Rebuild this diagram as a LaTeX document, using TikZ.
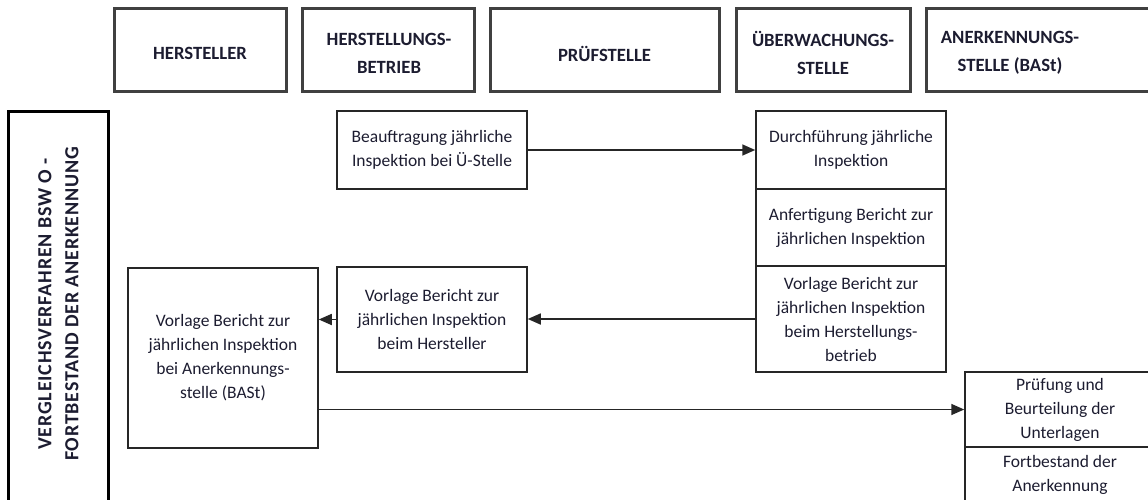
\documentclass[tikz,border=0pt]{standalone}
\usepackage{fontspec}
\setmainfont{Carlito}
\usetikzlibrary{arrows.meta}
\definecolor{txt}{RGB}{28,28,48}
\definecolor{hdrline}{RGB}{64,64,64}
\begin{document}
\begin{tikzpicture}[x=1pt,y=-1pt,
  hdrbox/.style={draw=hdrline, line width=3pt, minimum height=83pt, inner sep=0pt},
  hdrtext/.style={inner sep=0pt, font=\fontsize{18.7}{28}\selectfont\bfseries, text=txt, align=center},
  lanebox/.style={draw=black, line width=3pt, inner sep=0pt},
  lanetext/.style={inner sep=0pt, rotate=90, font=\fontsize{20}{27}\selectfont\bfseries\addfontfeature{LetterSpace=4}, text=txt, align=center},
  procbox/.style={draw=black!85, line width=1.5pt, inner sep=0pt, minimum width=190pt,
    font=\fontsize{17.5}{24}\selectfont, text=txt, align=center},
  conn/.style={line width=1.6pt, draw=black!85, -{Triangle[length=13pt,width=11pt]}}
]
\useasboundingbox (0,0) rectangle (1148,500);
\clip (0,0) rectangle (1148,500);

% header row
\node[hdrbox, minimum width=172pt] (h1) at (200,50.5) {};
\node[hdrtext] (h1t) at (200,53.5) {HERSTELLER};
\node[hdrbox, minimum width=172pt] (h2) at (388,50.5) {};
\node[hdrtext] (h2t) at (389,53) {HERSTELLUNGS-\\BETRIEB};
\node[hdrbox, minimum width=229pt] (h3) at (604.5,50.5) {};
\node[hdrtext] (h3t) at (604.5,53.5) {PRÜFSTELLE};
\node[hdrbox, minimum width=174pt] (h4) at (823,50.5) {};
\node[hdrtext] (h4t) at (823,53) {ÜBERWACHUNGS-\\STELLE};
\node[hdrbox, minimum width=250pt, anchor=west] (h5) at (925,50.5) {};
\node[hdrtext] (h5t) at (1010,53) {ANERKENNUNGS-\\STELLE (BASt)};

% lane
\node[lanebox, minimum width=100pt, minimum height=430pt, anchor=north] (lane) at (58,110) {};
\node[lanetext] (lanet) at (58.5,304) {VERGLEICHSVERFAHREN BSW O -\\FORTBESTAND DER ANERKENNUNG};

% process boxes
\node[procbox, minimum height=78pt] (auftrag) at (432,150) {Beauftragung jährliche\\Inspektion bei Ü-Stelle};
\node[procbox, minimum height=105pt] (vhst) at (432,319.5) {Vorlage Bericht zur\\jährlichen Inspektion\\beim Hersteller};
\node[procbox, minimum height=180pt] (vanerk) at (223,358) {Vorlage Bericht zur\\jährlichen Inspektion\\bei Anerkennungs-\\stelle (BASt)};

\node[procbox, minimum height=78pt] (durch) at (851,150) {Durchführung jährliche\\Inspektion};
\node[procbox, minimum height=77pt] (anfert) at (851,227.5) {Anfertigung Bericht zur\\jährlichen Inspektion};
\node[procbox, minimum height=106pt] (vbetr) at (851,319) {Vorlage Bericht zur\\jährlichen Inspektion\\beim Herstellungs-\\betrieb};

\node[procbox, minimum height=75pt] (pruef) at (1060,409.5) {Prüfung und\\Beurteilung der\\Unterlagen};
\node[procbox, minimum height=56pt] (fort) at (1060,475) {Fortbestand der\\Anerkennung};

% connectors
\draw[conn] (auftrag) -- (durch);
\draw[conn] (vbetr.west) -- (vhst.east |- vbetr.west);
\draw[conn] (vhst.west) -- (vanerk.east |- vhst.west);
\draw[conn] (vanerk.east |- pruef.west) -- (pruef.west);
\end{tikzpicture}
\end{document}
